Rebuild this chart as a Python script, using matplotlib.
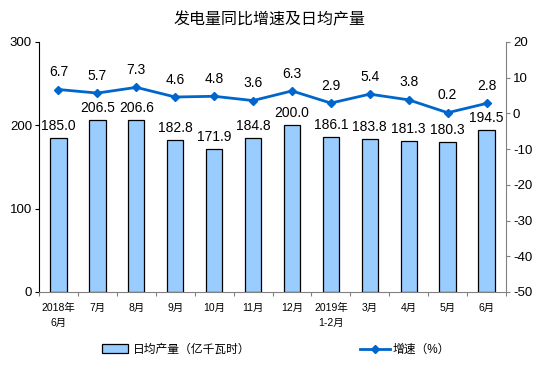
import matplotlib
matplotlib.use("Agg")
import matplotlib.pyplot as plt
import numpy as np

plt.rcParams["font.family"] = ["Liberation Sans", "Noto Sans CJK SC", "DejaVu Sans"]
plt.rcParams["axes.unicode_minus"] = False

months = ["2018年\n6月", "7月", "8月", "9月", "10月", "11月", "12月",
          "2019年\n1-2月", "3月", "4月", "5月", "6月"]
daily_output = [185.0, 206.5, 206.6, 182.8, 171.9, 184.8, 200.0,
                186.1, 183.8, 181.3, 180.3, 194.5]
growth = [6.7, 5.7, 7.3, 4.6, 4.8, 3.6, 6.3, 2.9, 5.4, 3.8, 0.2, 2.8]

BAR_COLOR = "#99CCFF"
LINE_COLOR = "#0066CC"

fig = plt.figure(figsize=(5.59, 3.85), dpi=100)
ax = fig.add_axes([39 / 559, 1 - 292 / 385, (506 - 39) / 559, (292 - 42) / 385])
x = np.arange(len(months))

bars = ax.bar(x, daily_output, width=0.42, color=BAR_COLOR, edgecolor="black",
              linewidth=0.9, label="日均产量（亿千瓦时）", zorder=2)
ax.set_xlim(-0.5, len(months) - 0.5)
ax.set_ylim(0, 300)
ax.set_yticks([0, 100, 200, 300])
ax.tick_params(axis="y", labelsize=9.5, length=3, pad=2)
ax.set_xticks(np.arange(-0.5, len(months), 1), minor=False)
ax.set_xticklabels([])
ax.tick_params(axis="x", length=3, color="#808080")
ax.set_xticks(x, minor=True)
ax.set_xticklabels(months, minor=True, fontsize=7.5, linespacing=1.6)
ax.tick_params(axis="x", which="minor", length=0, pad=8)
ax.spines["top"].set_visible(False)
ax.spines["right"].set_visible(False)
ax.spines["bottom"].set_color("#808080")

for xi, v in zip(x, daily_output):
    ax.text(xi, v + 6, f"{v:.1f}", ha="center", va="bottom", fontsize=10)

ax2 = ax.twinx()
ax2.plot(x, growth, color=LINE_COLOR, linewidth=2, marker="D", markersize=4.5,
         label="增速（%）", zorder=3)
ax2.set_ylim(-50, 20)
ax2.set_yticks(range(-50, 21, 10))
ax2.tick_params(axis="y", labelsize=9.5, length=3, pad=2, color="#808080")
for s in ["top", "left", "bottom"]:
    ax2.spines[s].set_visible(False)
ax2.spines["right"].set_color("#808080")

for xi, v in zip(x, growth):
    ax2.text(xi, v + 2.9, f"{v:.1f}", ha="center", va="bottom", fontsize=10)

fig.text(270 / 559, 1 - 20 / 385, "发电量同比增速及日均产量", ha="center", va="center",
         fontsize=11.5)

fig.legend(handles=[bars], loc="center", bbox_to_anchor=(176 / 559, 1 - 350 / 385),
           frameon=False, fontsize=8.5, handlelength=2.2, handleheight=0.8,
           handletextpad=0.4)
fig.legend(handles=ax2.get_lines(), loc="center", bbox_to_anchor=(405 / 559, 1 - 350 / 385),
           frameon=False, fontsize=8.5, handlelength=2.6, handletextpad=0.2)

fig.savefig("out.png", dpi=100)
